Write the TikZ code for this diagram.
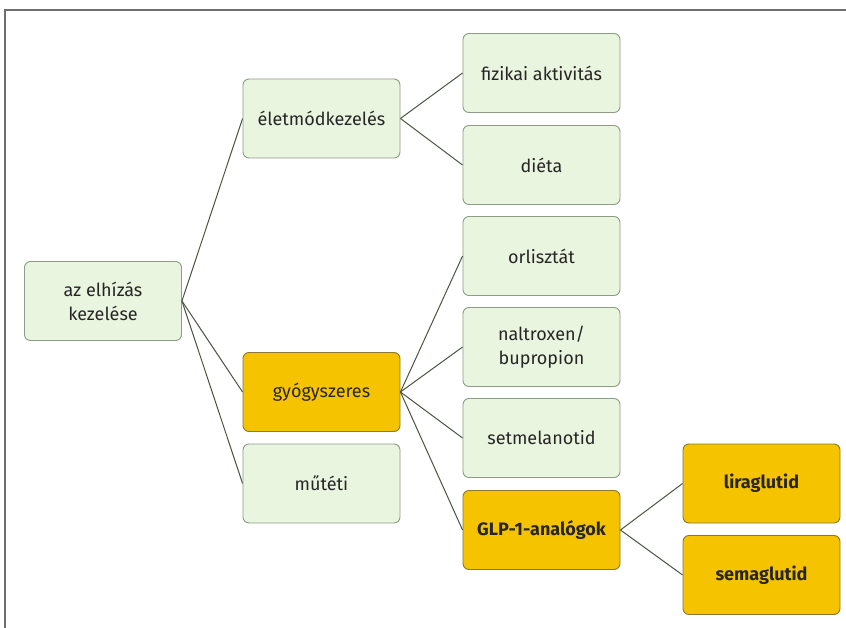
\documentclass[tikz,border=0pt]{standalone}
\usepackage{fontspec}
\setmainfont{Fira Sans}
\definecolor{boxgreen}{HTML}{EAF5E0}
\definecolor{boxgreenline}{HTML}{8E9C86}
\definecolor{boxgold}{HTML}{F5C300}
\definecolor{boxgoldline}{HTML}{8A7A30}
\definecolor{edgecol}{HTML}{4A5544}
\definecolor{framecol}{HTML}{6E6E6E}
\tikzset{
  box/.style={draw=boxgreenline, fill=boxgreen, rounded corners=6pt, line width=0.9pt,
    minimum width=157pt, minimum height=79pt, align=center, inner sep=2pt,
    font=\fontsize{18}{24}\selectfont, text=black!85},
  goldbox/.style={box, draw=boxgoldline, fill=boxgold},
  boldgold/.style={goldbox, font=\fontsize{18}{24}\selectfont\bfseries},
  edge/.style={draw=edgecol, line width=1pt}
}
\begin{document}
\begin{tikzpicture}[x=1pt,y=-1pt]
\useasboundingbox (0,0) rectangle (846,628);
\fill[white] (0,0) rectangle (846,628);
\draw[framecol, line width=1.3pt] (5,628) -- (5,10) -- (846,10);

\node[box] (root) at (103,301) {az elhízás\\kezelése};
\node[box] (elet) at (321.5,118.5) {életmódkezelés};
\node[goldbox] (gyogy) at (321.5,392) {gyógyszeres};
\node[box] (mutet) at (321.5,483.5) {műtéti};

\node[box] (fiz) at (541.5,73) {fizikai aktivitás};
\node[box] (dieta) at (541.5,165) {diéta};
\node[box] (orl) at (541.5,256) {orlisztát};
\node[box] (nal) at (541.5,347) {naltroxen/\\bupropion};
\node[box] (set) at (541.5,438) {setmelanotid};
\node[boldgold] (glp) at (541.5,530) {GLP-1-analógok};

\node[boldgold] (lira) at (761.5,483.5) {liraglutid};
\node[boldgold] (sema) at (761.5,575) {semaglutid};

\draw[edge] (root.east) -- (elet.west);
\draw[edge] (root.east) -- (gyogy.west);
\draw[edge] (root.east) -- (mutet.west);
\draw[edge] (elet.east) -- (fiz.west);
\draw[edge] (elet.east) -- (dieta.west);
\draw[edge] (gyogy.east) -- (orl.west);
\draw[edge] (gyogy.east) -- (nal.west);
\draw[edge] (gyogy.east) -- (set.west);
\draw[edge] (gyogy.east) -- (glp.west);
\draw[edge] (glp.east) -- (lira.west);
\draw[edge] (glp.east) -- (sema.west);
\end{tikzpicture}
\end{document}
